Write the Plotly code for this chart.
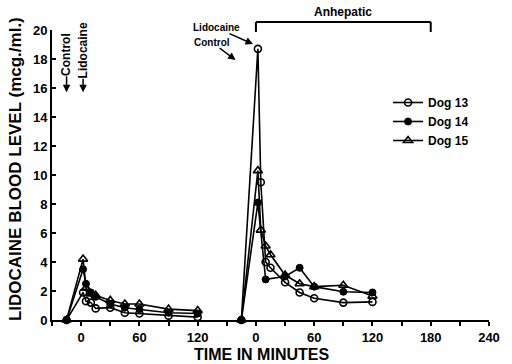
import plotly.graph_objects as go

# ---- data (minutes; concentrations in mcg./ml.) ----
control_times = [-15, 2, 5, 10, 15, 30, 45, 60, 90, 120]
anhepatic_times = [-15, 2, 5, 10, 15, 30, 45, 60, 90, 120]
ANHEPATIC_OFFSET = 180  # anhepatic time 0 sits 180 axis-units right of control time 0

dog13_control = [0, 1.9, 1.3, 1.2, 0.8, 0.85, 0.5, 0.45, 0.3, 0.2]
dog14_control = [0, 3.5, 2.5, 1.9, 1.6, 1.1, 0.85, 0.75, 0.5, 0.45]
dog15_control = [0, 4.2, 2.2, 1.8, 1.7, 1.35, 1.1, 1.1, 0.75, 0.65]

dog13_anhep = [0, 18.7, 9.5, 4.0, 3.6, 2.6, 1.9, 1.5, 1.2, 1.25]
dog14_anhep = [0, 8.1, None, 2.8, None, 3.0, 3.6, 2.3, 1.95, 1.9]
dog15_anhep = [0, 10.3, 6.2, 5.1, 4.5, 3.1, 2.5, 2.3, 2.4, 1.65]

dog_names = ["Dog 13", "Dog 14", "Dog 15"]
tick_positions = [-30, 0, 30, 60, 90, 120, 150, 180, 210, 240, 270, 300, 330, 360, 390, 420]
tick_labels = ["", "0", "", "60", "", "120", "", "0", "", "60", "", "120", "", "180", "", "240"]
y_ticks = [0, 2, 4, 6, 8, 10, 12, 14, 16, 18, 20]

X_MIN, X_MAX = -30, 420
FONT = "Liberation Sans"


def segment(times, values, offset):
    xs, ys = [], []
    for t, v in zip(times, values):
        if v is not None:
            xs.append(t + offset)
            ys.append(v)
    return xs, ys


styles = [
    dict(symbol="circle-open", size=7, color="black", line=dict(width=1.6, color="black")),
    dict(symbol="circle", size=7, color="black", line=dict(width=1, color="black")),
    dict(symbol="triangle-up-open", size=8, color="black", line=dict(width=1.6, color="black")),
]

fig = go.Figure()
series = [(dog13_control, dog13_anhep), (dog14_control, dog14_anhep), (dog15_control, dog15_anhep)]
for name, (ctrl, anh), mk in zip(dog_names, series, styles):
    x1, y1 = segment(control_times, ctrl, 0)
    x2, y2 = segment(anhepatic_times, anh, ANHEPATIC_OFFSET)
    fig.add_trace(go.Scatter(
        x=x1 + [None] + x2, y=y1 + [None] + y2, mode="lines+markers", name=name,
        line=dict(color="black", width=1.6), marker=mk, cliponaxis=False,
        connectgaps=False,
    ))

axis_font = dict(family=FONT, size=13, color="black", weight="bold")
fig.update_layout(
    width=512, height=364,
    margin=dict(l=52, r=14, t=30, b=44),
    paper_bgcolor="white", plot_bgcolor="white",
    font=dict(family=FONT, color="black"),
    showlegend=True,
    legend=dict(x=0.769, y=0.80, xanchor="left", yanchor="top",
                font=dict(family=FONT, size=12, color="black", weight="bold"),
                itemwidth=30, bgcolor="rgba(0,0,0,0)", tracegroupgap=0),
    xaxis=dict(range=[X_MIN, X_MAX], tickvals=tick_positions, ticktext=tick_labels,
               showline=True, linecolor="black", linewidth=2, ticks="outside",
               ticklen=4, tickwidth=1.5, tickcolor="black", showgrid=False,
               zeroline=False, tickfont=axis_font),
    yaxis=dict(range=[0, 20], tickvals=y_ticks, showline=True, linecolor="black",
               linewidth=2, ticks="inside", ticklen=4, tickwidth=1.5, tickcolor="black",
               showgrid=False, zeroline=False, tickfont=axis_font),
)

title_font = dict(family=FONT, size=16, color="black", weight="bold")
small_font = dict(family=FONT, size=10, color="black", weight="bold")

fig.add_annotation(text="LIDOCAINE BLOOD LEVEL (mcg./ml.)", xref="paper", yref="paper",
                   x=-0.085, y=0.52, textangle=-90, showarrow=False,
                   font=dict(title_font, size=17), xanchor="center", yanchor="middle")
fig.add_annotation(text="TIME IN MINUTES", xref="paper", yref="paper",
                   x=0.48, y=-0.118, showarrow=False, font=title_font,
                   xanchor="center", yanchor="middle")

# left markers of dosing
fig.add_annotation(text="Control", x=-15, y=15.7, ax=0, ay=-38, textangle=-90,
                   showarrow=True, arrowhead=2, arrowsize=1, arrowwidth=1.5,
                   arrowcolor="black", font=dict(small_font, size=12), borderpad=0)
fig.add_annotation(text="Lidocaine", x=2, y=15.7, ax=0, ay=-42, textangle=-90,
                   showarrow=True, arrowhead=2, arrowsize=1, arrowwidth=1.5,
                   arrowcolor="black", font=dict(small_font, size=12), borderpad=0)

# right markers
fig.add_annotation(text="Lidocaine", x=177, y=19.03, ax=-37, ay=-16.5,
                   showarrow=True, arrowhead=2, arrowsize=1, arrowwidth=1.5,
                   arrowcolor="black", font=small_font, borderpad=0)
fig.add_annotation(text="Control", x=159, y=17.93, ax=-24, ay=-18,
                   showarrow=True, arrowhead=2, arrowsize=1, arrowwidth=1.5,
                   arrowcolor="black", font=small_font, borderpad=0)

# anhepatic bracket
b0, b1 = ANHEPATIC_OFFSET + 0, ANHEPATIC_OFFSET + 180
for shp in [dict(x0=b0, x1=b1, y0=1.0275, y1=1.0275),
            dict(x0=b0, x1=b0, y0=1.0275, y1=0.993),
            dict(x0=b1, x1=b1, y0=1.0275, y1=0.993)]:
    fig.add_shape(type="line", xref="x", yref="paper", line=dict(color="black", width=2), **shp)
fig.add_annotation(text="Anhepatic", x=(b0 + b1) / 2, xref="x", yref="paper", y=1.03,
                   yanchor="bottom", showarrow=False,
                   font=dict(family=FONT, size=12, color="black", weight="bold"))

fig.write_html("out.html", config={"displayModeBar": False},
               post_script="document.body.style.margin='0';")
